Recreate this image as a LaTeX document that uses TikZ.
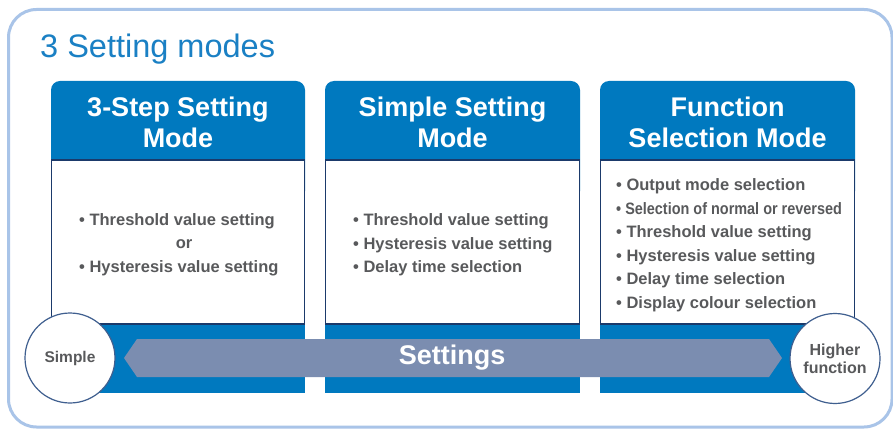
\documentclass[tikz,border=0pt]{standalone}
\usepackage{fontspec}
\setmainfont{Liberation Sans}
\usepackage{graphicx}
\definecolor{outerc}{HTML}{A9C4E8}
\definecolor{titlec}{HTML}{1A80C4}
\definecolor{panelc}{HTML}{0079BF}
\definecolor{navyc}{HTML}{1B3A6B}
\definecolor{arrowc}{HTML}{7B8DB0}
\definecolor{circc}{HTML}{3F5F8F}
\definecolor{textc}{HTML}{58595B}
\tikzset{
  headtxt/.style={text=white, font=\fontsize{27}{31}\selectfont\bfseries, align=center, inner sep=0pt},
  bodytxt/.style={text=textc, font=\fontsize{16.5}{23.5}\selectfont\bfseries, align=left, inner sep=0pt, anchor=west},
  endcirc/.style={circle, draw=circc, line width=1.2pt, fill=white, minimum size=90pt, inner sep=0pt, text=textc, align=center},
  whitebox/.style={draw=navyc, fill=white, line width=1.3pt},
}
\begin{document}
\begin{tikzpicture}[x=1pt, y=-1pt]
\useasboundingbox (0,0) rectangle (893,430);
\fill[white] (0,0) rectangle (893,430);
% outer frame
\draw[outerc, line width=3pt, rounded corners=28pt] (8.5,9.5) rectangle (892,427);
% title
\node[anchor=base west, inner sep=0pt, text=titlec, font=\fontsize{32.5}{36}\selectfont] (title) at (40,57.5) {3 Setting modes};
% panels
\foreach \xa/\xb in {51/305, 325/580, 600/855}{
  \fill[panelc, rounded corners=9pt] (\xa,81) rectangle (\xb,200);
  \fill[panelc] (\xa,150) rectangle (\xb,393);
  \draw[whitebox] (\xa+0.65,160) rectangle (\xb-0.65,324);
}
% headers
\node[headtxt] (h1) at (178,122) {3-Step Setting\\Mode};
\node[headtxt] (h2) at (452.5,122) {Simple Setting\\Mode};
\node[headtxt] (h3) at (727.5,122) {Function\\Selection Mode};
% bodies
\node[bodytxt] (b1) at (79,245) {• Threshold value setting\\[24pt]• Hysteresis value setting};
\node[text=textc, font=\fontsize{16.5}{20}\selectfont\bfseries, inner sep=0pt] (or) at (184,244.5) {or};
\node[bodytxt] (b2) at (353,245) {• Threshold value setting\\• Hysteresis value setting\\• Delay time selection};
\node[bodytxt] (b3) at (616,245) {• Output mode selection\\\scalebox{0.875}[1]{• Selection of normal or reversed}\\• Threshold value setting\\• Hysteresis value setting\\• Delay time selection\\• Display colour selection};
% arrow
\fill[arrowc] (124,358) -- (137,339) -- (769,339) -- (782,358) -- (769,377) -- (137,377) -- cycle;
\node[text=white, font=\fontsize{27}{31}\selectfont\bfseries, inner sep=0pt] (settings) at (452,358) {Settings};
% end circles
\node[endcirc, font=\fontsize{15.5}{18}\selectfont\bfseries] (simple) at (70,358) {Simple};
\node[endcirc, font=\fontsize{16}{18}\selectfont\bfseries] (higher) at (835,358.5) {Higher\\function};
\end{tikzpicture}
\end{document}
